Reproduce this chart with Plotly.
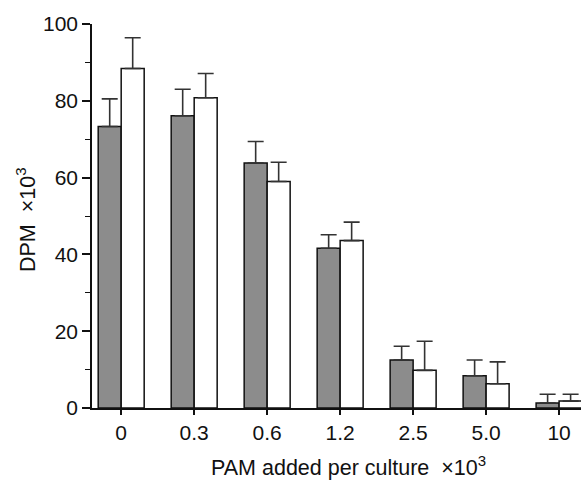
import plotly.graph_objects as go

categories = ["0", "0.3", "0.6", "1.2", "2.5", "5.0", "10"]
gray_vals = [73.3, 76.1, 63.8, 41.6, 12.5, 8.4, 1.3]
gray_err = [7.2, 6.9, 5.6, 3.5, 3.6, 4.1, 2.3]
white_vals = [88.4, 80.8, 59.0, 43.6, 9.8, 6.3, 1.8]
white_err = [8.0, 6.3, 5.0, 4.8, 7.6, 5.7, 1.8]
y_ticks = [0, 20, 40, 60, 80, 100]

FONT = "Liberation Sans, Arial, sans-serif"

fig = go.Figure()
for vals, errs, color in [(gray_vals, gray_err, "#8c8c8c"), (white_vals, white_err, "#ffffff")]:
    fig.add_trace(go.Bar(
        x=categories, y=vals,
        marker=dict(color=color, line=dict(color="#111111", width=1.5)),
        error_y=dict(type="data", array=errs, arrayminus=[0] * len(errs), symmetric=False,
                     color="#333333", thickness=1.6, width=8),
        showlegend=False,
    ))

fig.update_layout(
    width=581, height=486,
    margin=dict(l=92, r=0, t=24, b=78),
    paper_bgcolor="white", plot_bgcolor="white",
    barmode="group", bargap=0.37, bargroupgap=0,
    font=dict(family=FONT, size=21, color="#111111"),
    xaxis=dict(type="category", range=[-0.4, 6.3], showline=True, linecolor="#111111", linewidth=1.5,
               ticks="outside", ticklen=5, tickwidth=1.5, tickcolor="#111111",
               showgrid=False, zeroline=False, tickfont=dict(size=21)),
    yaxis=dict(range=[0, 100], tickvals=y_ticks, showline=True, linecolor="#111111", linewidth=1.5,
               ticks="outside", ticklen=8, tickwidth=1.5, tickcolor="#111111",
               minor=dict(dtick=10, ticks="outside", ticklen=5, tickwidth=1.2, tickcolor="#111111"),
               showgrid=False, zeroline=False, tickfont=dict(size=21)),
    annotations=[
        dict(text="PAM added per culture&nbsp;&nbsp;×10<sup>3</sup>", xref="paper", yref="paper",
             x=(348 - 92) / 489, y=(486 - 78 - 470) / 408, xanchor="center", yanchor="middle",
             showarrow=False, font=dict(size=21.5)),
        dict(text="DPM&nbsp;&nbsp;×10<sup>3</sup>", xref="paper", yref="paper",
             x=(26 - 92) / 489, y=(408 - 220) / 384, xanchor="center", yanchor="middle",
             textangle=-90, showarrow=False, font=dict(size=21.5)),
    ],
)

fig.write_html("out.html")
